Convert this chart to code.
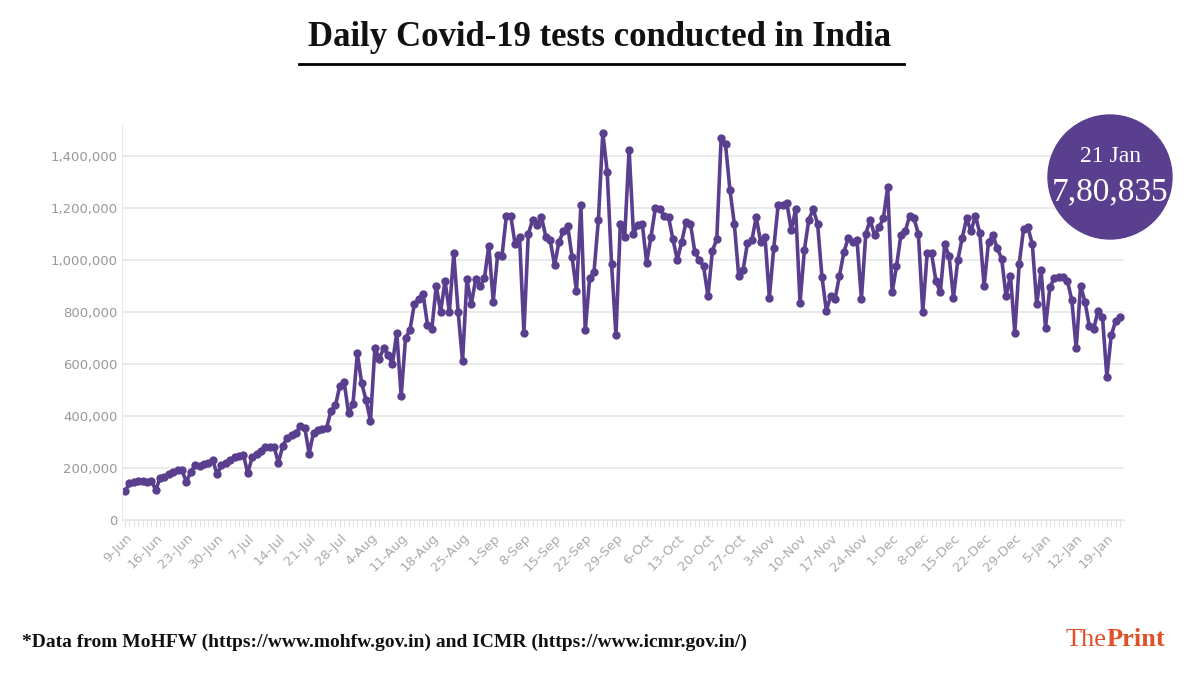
import numpy as np, pandas as pd, matplotlib
matplotlib.use("Agg")
import matplotlib.pyplot as plt, seaborn as sns
from matplotlib.patches import Circle
from matplotlib.lines import Line2D

start_date = "2020-06-09"
tests_thousands = [
110,140,145,150,150,145,150, 115,160,165,175,185,190,190,
145,185,210,205,215,220,230, 175,210,220,230,240,245,250,
180,240,255,265,280,280,280, 220,285,315,325,335,360,355,
255,335,345,350,355,420,440, 515,530,410,445,640,525,460,
380,660,620,660,635,600,720, 475,700,730,830,850,870,750,
735,900,800,920,800,1025,800, 610,925,830,925,900,930,1055,
840,1020,1015,1170,1170,1060,1090, 720,1100,1155,1135,1165,1090,1075,
980,1070,1110,1130,1010,880,1210, 730,930,955,1155,1490,1340,985,
710,1140,1090,1425,1100,1135,1140, 990,1090,1200,1195,1170,1165,1080,
1000,1070,1145,1140,1030,1000,975, 860,1035,1080,1470,1445,1270,1140,
940,960,1065,1075,1165,1070,1090, 855,1045,1210,1210,1220,1115,1195,
835,1040,1155,1195,1140,935,805, 860,850,940,1030,1085,1070,1075,
850,1100,1155,1095,1125,1160,1280, 875,975,1095,1110,1170,1160,1100,
800,1025,1025,920,875,1060,1015, 855,1000,1085,1160,1110,1170,1105,
900,1070,1095,1045,1005,860,940, 720,985,1120,1125,1060,830,960,
740,895,930,935,935,920,845, 660,900,840,745,735,805,780,
550,710,765,780.835]
yticks = [0,200000,400000,600000,800000,1000000,1200000,1400000]

dates = pd.date_range(start_date, periods=len(tests_thousands), freq="D")
df = pd.DataFrame({"date": dates, "tests": np.array(tests_thousands)*1000})
purple = "#5b3f8f"

fig = plt.figure(figsize=(12, 6.75), dpi=100)
ax = fig.add_axes([0.102, 0.23, 0.835, 0.585])
sns.lineplot(data=df, x="date", y="tests", ax=ax, color=purple, lw=2.6,
             marker="o", markersize=6, markeredgewidth=0)
ax.set_ylim(0, 1520000)
ax.set_xlim(dates[0]-pd.Timedelta(days=0.6), dates[-1]+pd.Timedelta(days=1))
ax.set_yticks(yticks)
ax.set_yticklabels([f"{v:,}" for v in yticks], fontsize=9.5, color="#999999")
ticks = pd.date_range(start_date, dates[-1], freq="7D")
ax.set_xticks(ticks)
ax.set_xticklabels([f"{d.day}-{d.strftime('%b')}" for d in ticks], rotation=45,
                   ha="right", rotation_mode="anchor", fontsize=9.5, color="#aaaaaa")
ax.set_xticks(dates, minor=True)
ax.tick_params(axis="x", which="both", length=5, color="#dddddd")
ax.tick_params(axis="y", length=0)
ax.grid(axis="y", color="#e6e6e6", lw=1.2)
for s in ["top","right"]: ax.spines[s].set_visible(False)
ax.spines["left"].set_color("#e6e6e6"); ax.spines["bottom"].set_color("#e6e6e6")
ax.set_xlabel(""); ax.set_ylabel("")

fig.text(0.5, 0.945, "Daily Covid-19 tests conducted in India", ha="center", va="center",
         fontsize=25, fontweight="bold", family="Liberation Serif", color="#111111")
fig.add_artist(Line2D([0.249, 0.753], [0.905, 0.905], color="black", lw=2))
circ = Circle((1110/1200, 1-177/675), 62/1200, transform=fig.transFigure, color=purple,
              zorder=5)
# keep circle round
from matplotlib.patches import Ellipse
circ = Ellipse((1110/1200, 1-177/675), 124/1200, 124/675, transform=fig.transFigure,
               color=purple, zorder=5)
fig.add_artist(circ)
fig.text(1110/1200, 1-157/675, "21 Jan", ha="center", va="center", color="white",
         fontsize=17, family="Liberation Serif", zorder=6)
fig.text(1110/1200, 1-192/675, "7,80,835", ha="center", va="center", color="white",
         fontsize=24, family="Liberation Serif", zorder=6)
fig.text(0.018, 1-642/675, "*Data from MoHFW (https://www.mohfw.gov.in) and ICMR (https://www.icmr.gov.in/)",
         fontsize=14, fontweight="bold", family="Liberation Serif", va="center", color="#111111")
fig.text(0.973, 1-640/675, "The", ha="right", va="center", fontsize=1, alpha=0)
fig.text(0.888, 1-640/675, "The", ha="left", va="center", fontsize=19, color="#e0502a",
         family="Liberation Serif")
fig.text(0.922, 1-640/675, "Print", ha="left", va="center", fontsize=19, color="#e0502a",
         family="Liberation Serif", fontweight="bold")
fig.savefig("out.png", dpi=100)
